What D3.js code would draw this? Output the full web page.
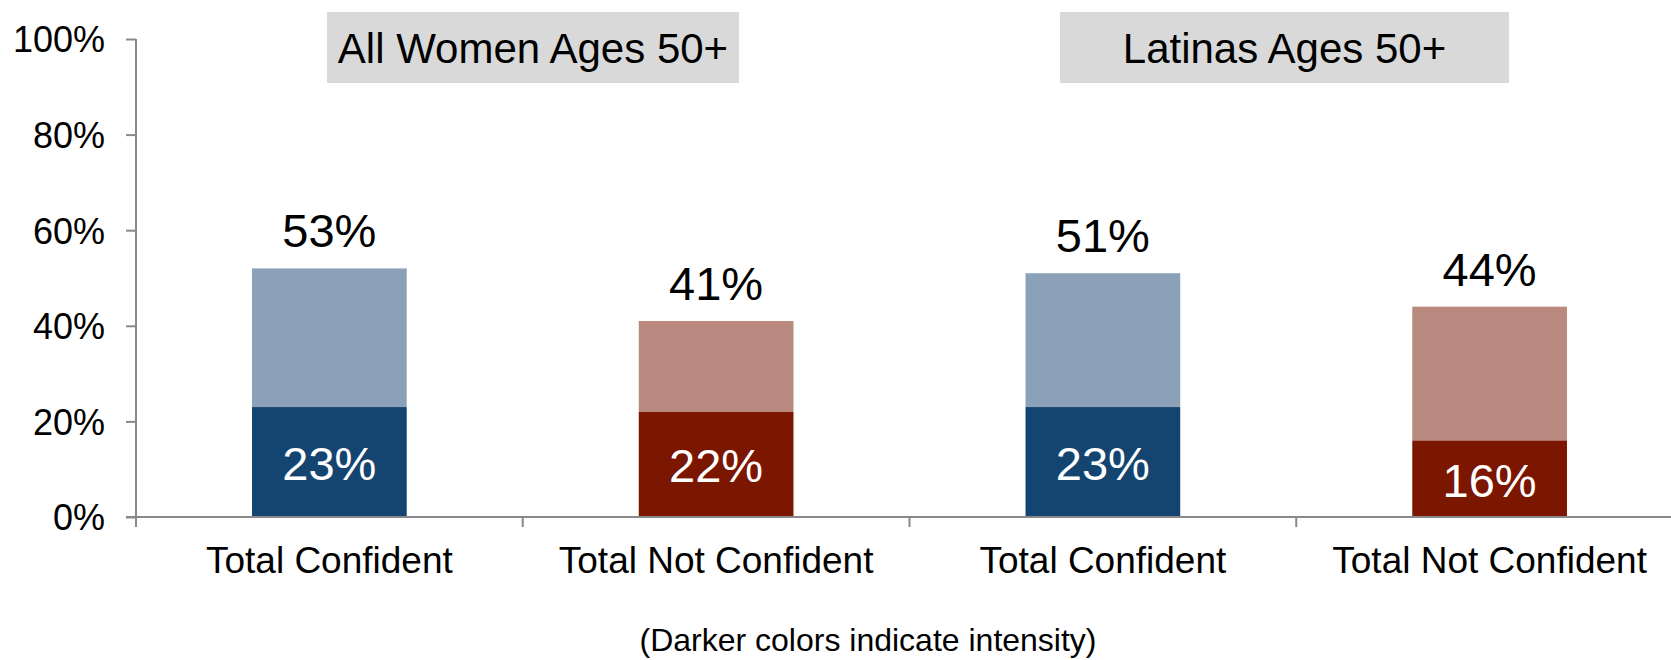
<!DOCTYPE html>
<html>
<head>
<meta charset="utf-8">
<script src="https://cdn.jsdelivr.net/npm/d3@7"></script>
<style>
  body { margin: 0; background: #fff; }
  svg { display: block; font-family: "Liberation Sans", Arial, sans-serif; }
</style>
</head>
<body>
<script>
// chart data
var categories = ["Total Confident", "Total Not Confident", "Total Confident ", "Total Not Confident "];
var categoryLabels = ["Total Confident", "Total Not Confident", "Total Confident", "Total Not Confident"];
var intense = [23, 22, 23, 16];      // darker part of each bar
var somewhat = [29, 19, 28, 28];     // lighter part stacked on top
var totalLabels = ["53%", "41%", "51%", "44%"];
var yTicks = [0, 20, 40, 60, 80, 100];
var groupTitles = ["All Women Ages 50+", "Latinas Ages 50+"];
var footnote = "(Darker colors indicate intensity)";

var width = 1671, height = 660;

var svg = d3.select("body").append("svg")
  .attr("width", width)
  .attr("height", height);

var x = d3.scaleBand()
  .domain(categories)
  .range([136, 1683])
  .paddingInner(0.6)
  .paddingOuter(0.3);

var y = d3.scaleLinear()
  .domain([0, 100])
  .range([517, 39]);

var lightColor = ["#8aa1b7", "#b9897f", "#8aa1b7", "#b9897f"];
var darkColor = ["#144470", "#7b1600", "#144470", "#7b1600"];

// group title boxes
var boxes = [
  {x: 327, w: 412, text: groupTitles[0]},
  {x: 1060, w: 449, text: groupTitles[1]}
];
var tb = svg.selectAll(".titlebox").data(boxes).enter().append("g").attr("class", "titlebox");
tb.append("rect")
  .attr("x", function(d) { return d.x; })
  .attr("y", 12)
  .attr("width", function(d) { return d.w; })
  .attr("height", 71)
  .attr("fill", "#d9d9d9");
tb.append("text")
  .attr("x", function(d) { return d.x + d.w / 2; })
  .attr("y", 63)
  .attr("text-anchor", "middle")
  .attr("font-size", "42px")
  .attr("fill", "#000")
  .text(function(d) { return d.text; });

// bars
var data = categories.map(function(c, i) {
  return {cat: c, intense: intense[i], somewhat: somewhat[i], label: totalLabels[i], i: i};
});

svg.selectAll(".light").data(data).enter().append("rect")
  .attr("class", "light")
  .attr("x", function(d) { return x(d.cat); })
  .attr("y", function(d) { return y(d.intense + d.somewhat); })
  .attr("width", x.bandwidth())
  .attr("height", function(d) { return y(d.intense) - y(d.intense + d.somewhat); })
  .attr("fill", function(d) { return lightColor[d.i]; });

svg.selectAll(".dark").data(data).enter().append("rect")
  .attr("class", "dark")
  .attr("x", function(d) { return x(d.cat); })
  .attr("y", function(d) { return y(d.intense); })
  .attr("width", x.bandwidth())
  .attr("height", function(d) { return y(0) - y(d.intense); })
  .attr("fill", function(d) { return darkColor[d.i]; });

// total labels above bars
svg.selectAll(".total").data(data).enter().append("text")
  .attr("class", "total")
  .attr("x", function(d) { return x(d.cat) + x.bandwidth() / 2; })
  .attr("y", function(d) { return y(d.intense + d.somewhat) - 21; })
  .attr("text-anchor", "middle")
  .attr("font-size", "47px")
  .attr("fill", "#000")
  .text(function(d) { return d.label; });

// intense labels inside dark part
svg.selectAll(".inner").data(data).enter().append("text")
  .attr("class", "inner")
  .attr("x", function(d) { return x(d.cat) + x.bandwidth() / 2; })
  .attr("y", function(d) { return (y(d.intense) + y(0)) / 2 + 18; })
  .attr("text-anchor", "middle")
  .attr("font-size", "47px")
  .attr("fill", "#fff")
  .text(function(d) { return d.intense + "%"; });

// y axis
var yAxis = svg.append("g")
  .attr("transform", "translate(136,0)")
  .call(d3.axisLeft(y).tickValues(yTicks).tickSize(10).tickPadding(21)
    .tickFormat(function(d) { return d + "%"; }));
yAxis.select(".domain").attr("stroke", "#898989").attr("stroke-width", 2).attr("d", "M0,39V517");
yAxis.selectAll(".tick line").attr("stroke", "#898989").attr("stroke-width", 2);
yAxis.selectAll(".tick text").attr("font-size", "36px").attr("fill", "#000")
  .attr("font-family", "Liberation Sans, Arial, sans-serif").attr("dy", "0.36em");

// x axis with ticks at band boundaries
var xAxis = svg.append("g").attr("transform", "translate(0,517)");
xAxis.append("line")
  .attr("x1", 126).attr("x2", width)
  .attr("stroke", "#898989").attr("stroke-width", 2);
var bounds = d3.range(categories.length).map(function(i) { return x(categories[i]) - x.step() * 0.3; });
xAxis.selectAll(".xtick").data(bounds).enter().append("line")
  .attr("x1", function(d) { return d; }).attr("x2", function(d) { return d; })
  .attr("y1", 0).attr("y2", 10)
  .attr("stroke", "#898989").attr("stroke-width", 2);
xAxis.selectAll(".xlabel").data(data).enter().append("text")
  .attr("x", function(d) { return x(d.cat) + x.bandwidth() / 2; })
  .attr("y", 56)
  .attr("text-anchor", "middle")
  .attr("font-size", "37px")
  .attr("fill", "#000")
  .text(function(d) { return categoryLabels[d.i]; });

// footnote
svg.append("text")
  .attr("x", 868)
  .attr("y", 651)
  .attr("text-anchor", "middle")
  .attr("font-size", "32px")
  .attr("fill", "#000")
  .text(footnote);
</script>
</body>
</html>
